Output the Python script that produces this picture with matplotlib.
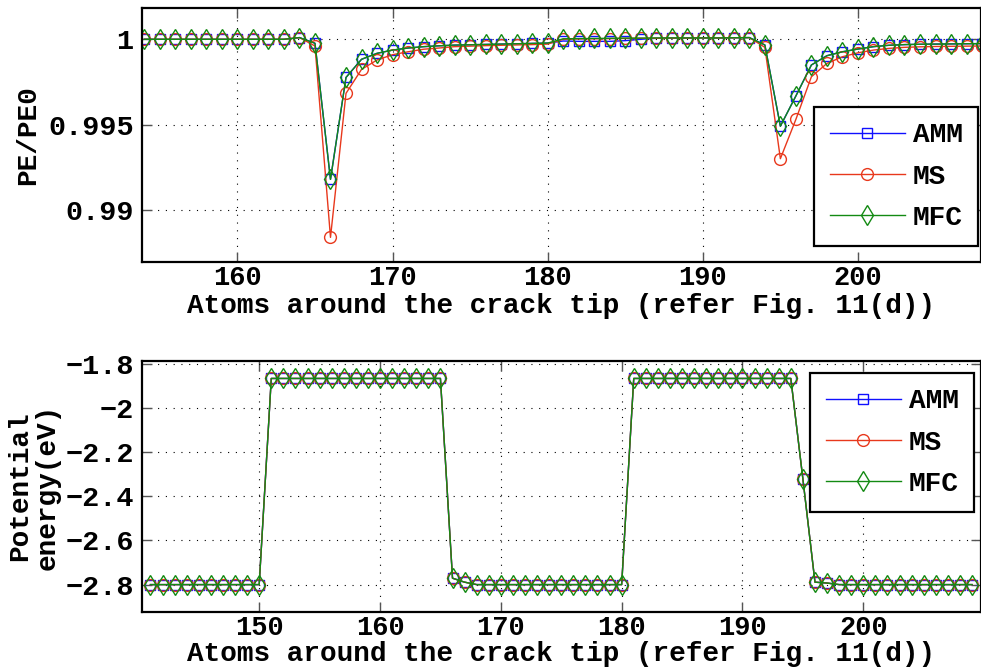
import numpy as np
import matplotlib
matplotlib.use("Agg")
import matplotlib.pyplot as plt
from matplotlib.ticker import FuncFormatter, FixedLocator

# ---- normalised potential energy around the crack tip ----
atoms_top = list(range(154, 209))
pe_ratio_amm = [
    1.0, 1.0, 1.0, 1.0, 1.0, 1.0, 1.0, 1.0, 1.0, 1.0,           # 154-163
    1.0001, 0.99977, 0.99181, 0.99777, 0.99883, 0.99918,        # 164-169
    0.99937, 0.99949, 0.99957, 0.99962, 0.99966, 0.99968,       # 170-175
    0.99970, 0.99972, 0.99974, 0.99976, 0.99978,                # 176-180
    0.99990, 0.99988, 0.99988, 0.99988, 0.99992, 1.00000,       # 181-186
    1.00006, 1.00007, 1.00008, 1.00008, 1.00008, 1.00009,       # 187-192
    1.00010, 0.99967, 0.99492, 0.99669, 0.99850, 0.99904,       # 193-198
    0.99927, 0.99943, 0.99957, 0.99965, 0.99969, 0.99971,       # 199-204
    0.99972, 0.99973, 0.99974, 0.99975,                         # 205-208
]
pe_ratio_ms = [
    1.0, 1.0, 1.0, 1.0, 1.0, 1.0, 1.0, 1.0, 1.0, 1.0,
    1.0001, 0.99961, 0.98842, 0.99684, 0.99824, 0.99879,
    0.99910, 0.99927, 0.99942, 0.99949, 0.99957, 0.99960,
    0.99963, 0.99965, 0.99967, 0.99969, 0.99972,
    1.00000, 1.00002, 1.00003, 1.00004, 1.00005, 1.00006,
    1.00006, 1.00007, 1.00007, 1.00008, 1.00008, 1.00009,
    1.00010, 0.99953, 0.99302, 0.99532, 0.99781, 0.99859,
    0.99898, 0.99921, 0.99937, 0.99947, 0.99953, 0.99956,
    0.99958, 0.99959, 0.99960, 0.99961,
]
pe_ratio_mfc = [
    1.0, 1.0, 1.0, 1.0, 1.0, 1.0, 1.0, 1.0, 1.0, 1.0,
    1.0001, 0.99977, 0.99181, 0.99777, 0.99883, 0.99918,
    0.99937, 0.99949, 0.99957, 0.99962, 0.99966, 0.99968,
    0.99970, 0.99972, 0.99974, 0.99976, 0.99978,
    1.00003, 1.00004, 1.00005, 1.00006, 1.00007, 1.00007,
    1.00008, 1.00008, 1.00008, 1.00008, 1.00008, 1.00009,
    1.00010, 0.99967, 0.99492, 0.99669, 0.99850, 0.99904,
    0.99927, 0.99943, 0.99957, 0.99965, 0.99969, 0.99971,
    0.99972, 0.99973, 0.99974, 0.99975,
]

# ---- absolute potential energy (eV) ----
atoms_bottom = list(range(141, 210))
pe_lo = -2.8
pe_hi = -1.867
pe_amm = ([pe_lo] * 10 + [pe_hi] * 15 + [-2.771, -2.789] + [pe_lo] * 13
          + [pe_hi] * 14 + [-2.322, -2.789, -2.793] + [pe_lo] * 12)
pe_ms = list(pe_amm)
pe_mfc = list(pe_amm)

series_names = ["AMM", "MS", "MFC"]
top_ticks_x = [160, 170, 180, 190, 200]
top_ticks_y = [0.99, 0.995, 1.0]
bottom_ticks_x = [150, 160, 170, 180, 190, 200]
bottom_ticks_y = [-2.8, -2.6, -2.4, -2.2, -2.0, -1.8]
x_title = "Atoms around the crack tip (refer Fig. 11(d))"

FONT = "Liberation Mono"
FS = 20
TICK_FS = 20.5
XTICK_FS = 19.5
plt.rcParams["font.family"] = [FONT, "DejaVu Sans"]
plt.rcParams["font.weight"] = "bold"
plt.rcParams["axes.unicode_minus"] = True

styles = [
    dict(color="#1010ff", marker="s", markersize=7, mfc="none", mew=1.0),
    dict(color="#e8381c", marker="o", markersize=8.5, mfc="none", mew=1.0),
    dict(color="#138a13", marker="d", markersize=10.5, mfc="none", mew=1.0),
]


def fmt(v, _pos):
    s = "%g" % round(v, 6)
    return s.replace("-", "\u2212")


def style_axes(ax, xt, yt):
    ax.xaxis.set_major_locator(FixedLocator(xt))
    ax.yaxis.set_major_locator(FixedLocator(yt))
    ax.xaxis.set_major_formatter(FuncFormatter(fmt))
    ax.yaxis.set_major_formatter(FuncFormatter(fmt))
    ax.tick_params(direction="in", length=7, width=1.0, color="#555555",
                   top=True, right=True, labelsize=TICK_FS, pad=6)
    ax.tick_params(axis="x", pad=2.5, labelsize=XTICK_FS)
    for lab in ax.get_xticklabels() + ax.get_yticklabels():
        lab.set_fontweight("bold")
    ax.grid(True, linestyle=(0, (1, 6)), color="black", linewidth=0.8)
    for sp in ax.spines.values():
        sp.set_linewidth(1.6)
        sp.set_color("black")


def add_legend(ax, anchor):
    leg = ax.legend(loc="upper right", bbox_to_anchor=anchor,
                    bbox_transform=fig.transFigure, borderaxespad=0,
                    fancybox=False, framealpha=1, edgecolor="black",
                    numpoints=1, handlelength=2.7, handletextpad=0.3,
                    labelspacing=0.55, borderpad=0.55,
                    prop=dict(family=FONT, weight="bold", size=FS))
    leg.get_frame().set_linewidth(1.6)
    return leg


fig = plt.figure(figsize=(9.81, 6.72), dpi=100)
ax1 = fig.add_axes([142 / 981, 1 - 262 / 672, (980.5 - 142) / 981, (262 - 8) / 672])
ax2 = fig.add_axes([142 / 981, 1 - 612 / 672, (980.5 - 142) / 981, (612 - 361) / 672])

for ys, name, st in zip([pe_ratio_amm, pe_ratio_ms, pe_ratio_mfc], series_names, styles):
    ax1.plot(atoms_top, ys, label=name, linewidth=1.0, **st)
ax1.set_xlim(153.85, 207.9)
ax1.set_ylim(0.98698, 1.00183)
style_axes(ax1, top_ticks_x, top_ticks_y)
ax1.set_xlabel(x_title, fontsize=FS, fontweight="bold", labelpad=1)
ax1.set_ylabel("PE/PE0", fontsize=FS, fontweight="bold", labelpad=5)
add_legend(ax1, (978 / 981, 1 - 107 / 672))

for ys, name, st in zip([pe_amm, pe_ms, pe_mfc], series_names, styles):
    ax2.plot(atoms_bottom, ys, label=name, linewidth=1.0, **st)
ax2.set_xlim(140.3, 209.7)
ax2.set_ylim(-2.924, -1.788)
style_axes(ax2, bottom_ticks_x, bottom_ticks_y)
ax2.set_xlabel(x_title, fontsize=FS, fontweight="bold", labelpad=0)
ax2.set_ylabel("Potential\nenergy(eV)", fontsize=FS, fontweight="bold",
               labelpad=3, linespacing=1.1)
add_legend(ax2, (974 / 981, 1 - 373 / 672))

fig.savefig("out.png", dpi=100)
